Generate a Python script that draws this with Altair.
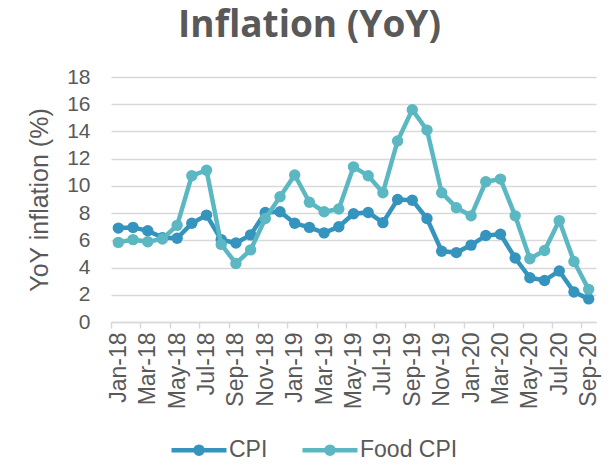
import altair as alt
import pandas as pd

months = ["Jan-18", "Feb-18", "Mar-18", "Apr-18", "May-18", "Jun-18", "Jul-18", "Aug-18",
          "Sep-18", "Oct-18", "Nov-18", "Dec-18", "Jan-19", "Feb-19", "Mar-19", "Apr-19",
          "May-19", "Jun-19", "Jul-19", "Aug-19", "Sep-19", "Oct-19", "Nov-19", "Dec-19",
          "Jan-20", "Feb-20", "Mar-20", "Apr-20", "May-20", "Jun-20", "Jul-20", "Aug-20",
          "Sep-20"]
cpi = [6.9, 6.95, 6.7, 6.2, 6.15, 7.25, 7.85, 6.05, 5.8, 6.4, 8.05, 8.1, 7.25, 6.95, 6.55, 7.0,
       7.95, 8.05, 7.3, 9.0, 8.95, 7.6, 5.2, 5.1, 5.65, 6.35, 6.45, 4.7, 3.25, 3.05, 3.75, 2.2,
       1.7]
food_cpi = [5.85, 6.05, 5.9, 6.1, 7.1, 10.75, 11.15, 5.7, 4.3, 5.3, 7.6, 9.2, 10.8, 8.8, 8.1, 8.3,
            11.4, 10.75, 9.5, 13.3, 15.6, 14.1, 9.5, 8.4, 7.8, 10.3, 10.5, 7.8, 4.65, 5.25, 7.45,
            4.45, 2.4]
series_names = ["CPI", "Food CPI"]
series_colors = ["#3594BE", "#5BB8C3"]
y_ticks = [0, 2, 4, 6, 8, 10, 12, 14, 16, 18]
x_labels = months[::2]

df = pd.DataFrame({
    "month": months * 2,
    "value": cpi + food_cpi,
    "series": [series_names[0]] * len(months) + [series_names[1]] * len(months),
})

GRAY = "#595959"
W, H = 485, 245
step = W / len(months)

sym = "M-2,0L2,0M0.26,0A0.26,0.26,0,1,1,-0.26,0A0.26,0.26,0,1,1,0.26,0M0.1,0A0.1,0.1,0,1,1,-0.1,0A0.1,0.1,0,1,1,0.1,0"

color = alt.Color(
    "series:N",
    scale=alt.Scale(domain=series_names, range=series_colors),
    legend=alt.Legend(
        title=None, orient="none", direction="horizontal",
        legendX=72, legendY=357,
        symbolType=sym, symbolSize=756, symbolStrokeWidth=4.5,
        labelFont="Liberation Sans", labelFontSize=23, labelColor=GRAY,
        labelOffset=14, columnPadding=25,
    ),
)

x = alt.X(
    "month:N", sort=months,
    scale=alt.Scale(type="point", padding=0.5),
    axis=alt.Axis(
        title=None, values=x_labels, labelAngle=270, labelAlign="right", labelBaseline="middle",
        labelFont="Liberation Sans", labelFontSize=23, labelColor=GRAY, labelPadding=4,
        labelOverlap=False,
        tickOffset=-step / 2, labelOffset=step / 2, tickSize=6, tickColor="#D9D9D9",
        tickWidth=1.5, domainColor="#D9D9D9", domainWidth=1.5, grid=False,
    ),
)
y = alt.Y(
    "value:Q",
    scale=alt.Scale(domain=[0, 18], nice=False, zero=True),
    axis=alt.Axis(
        title="YoY inflation (%)", values=y_ticks, grid=True, gridColor="#D9D9D9", gridWidth=1.5,
        domain=False, ticks=False, labelFont="Liberation Sans", labelFontSize=21,
        labelColor=GRAY, labelPadding=21, titleFont="Liberation Sans", titleFontSize=25,
        titleFontWeight="normal", titleColor=GRAY, titlePadding=14,
    ),
)

layers = []
for name in series_names:
    base = alt.Chart(df).transform_filter(alt.datum.series == name)
    layers.append(base.mark_line(strokeWidth=4.5).encode(x=x, y=y, color=color))
    layers.append(base.mark_circle(size=130, opacity=1).encode(x=x, y=y, color=color))

chart = alt.layer(*layers).properties(
    width=W, height=H,
    autosize=alt.AutoSizeParams(type="none"),
    padding={"left": 103, "top": 69, "right": 9, "bottom": 136},
    title=alt.TitleParams(
        "Inflation (YoY)", font="Open Sans", fontSize=37, fontWeight="bold",
        color=GRAY, anchor="middle", dx=-44, offset=21,
    ),
).configure_view(stroke=None)

chart.save("out.html", embed_options={"renderer": "svg", "actions": False})
